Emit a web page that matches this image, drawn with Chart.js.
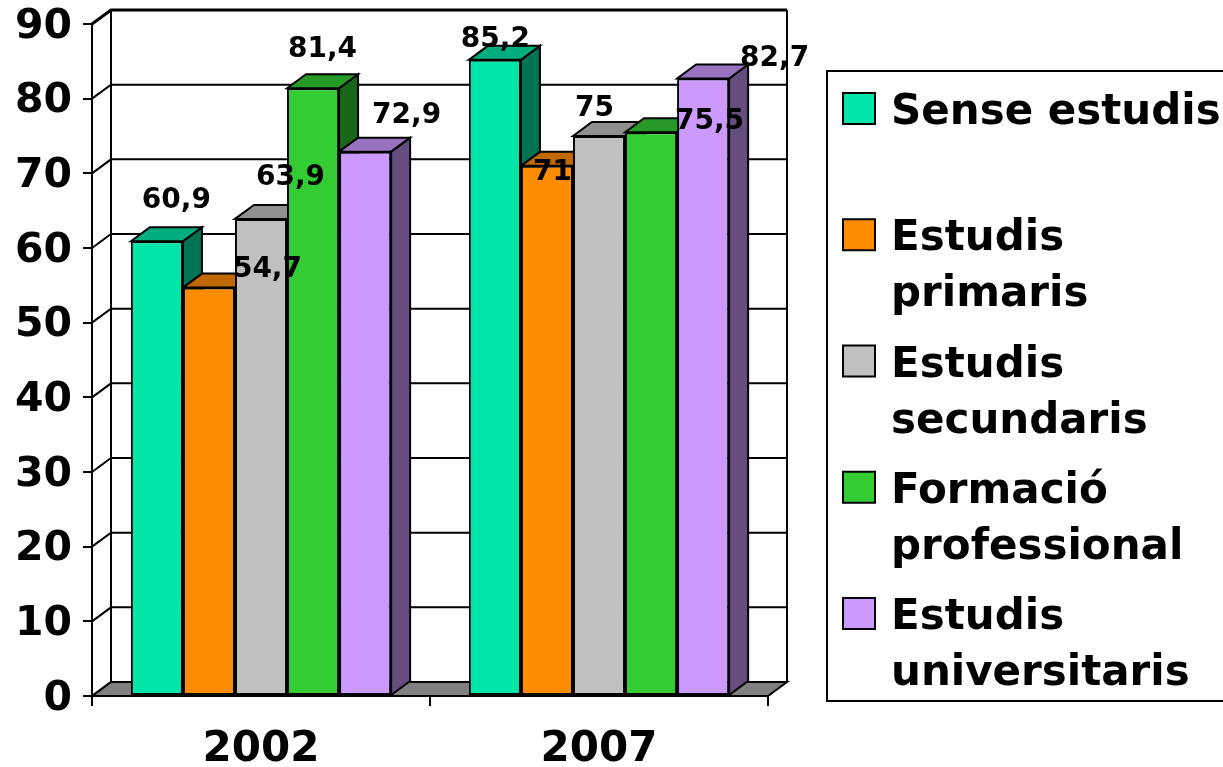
<!DOCTYPE html>
<html>
<head>
<meta charset="utf-8">
<script src="https://cdn.jsdelivr.net/npm/chart.js@4"></script>
<style>
  html, body { margin: 0; padding: 0; background: #fff; }
  #wrap { width: 1223px; height: 767px; position: relative; }
</style>
</head>
<body>
<div id="wrap"><canvas id="chart" width="1223" height="767"></canvas></div>
<script>
// data
const years = ["2002", "2007"];
const seriesNames = ["Sense estudis", "Estudis primaris", "Estudis secundaris", "Formació professional", "Estudis universitaris"];
const senseEstudis = [60.9, 85.2];
const estudisPrimaris = [54.7, 71];
const estudisSecundaris = [63.9, 75];
const formacioProfessional = [81.4, 75.5];
const estudisUniversitaris = [72.9, 82.7];
const yMin = 0, yMax = 90, yStep = 10;

// styling
const frontColors = ["#00E6A8", "#FF8C00", "#C0C0C0", "#33CC33", "#CC99FF"];
const depthX = 19, depthY = 14;
const FONT = "'DejaVu Sans', Verdana, sans-serif";
// Excel put the value labels in odd places, nudge them (px) per series / year
const labelNudge = [
    [[10, -34], [-9, -13]],
    [[49, -11], [-4, 14]],
    [[20, -34], [-14, -20]],
    [[0, -31], [49, -4]],
    [[32, -29], [62, -13]]
];

function shade(hex, f) {
    const n = parseInt(hex.slice(1), 16);
    const r = Math.round(((n >> 16) & 255) * f);
    const g = Math.round(((n >> 8) & 255) * f);
    const b = Math.round((n & 255) * f);
    return `rgb(${r},${g},${b})`;
}

function poly(ctx, pts, fill) {
    ctx.beginPath();
    ctx.moveTo(pts[0][0], pts[0][1]);
    for (let i = 1; i < pts.length; i++) ctx.lineTo(pts[i][0], pts[i][1]);
    ctx.closePath();
    if (fill) { ctx.fillStyle = fill; ctx.fill(); }
    ctx.stroke();
}

/**
 * Back walls, floor and bar depth faces
 */
const threeD = {
    id: "threeD",
    beforeDatasetsDraw(chart) {
        const ctx = chart.ctx;
        const a = chart.chartArea;
        const ys = chart.scales.y;
        ctx.save();
        ctx.strokeStyle = "#000";
        ctx.lineJoin = "miter";

        // floor
        ctx.lineWidth = 2;
        poly(ctx, [[a.left, a.bottom], [a.left + depthX, a.bottom - depthY],
                   [a.right + depthX, a.bottom - depthY], [a.right, a.bottom]], "#808080");

        // gridlines on left and back wall
        ys.ticks.forEach(t => {
            const py = ys.getPixelForValue(t.value);
            ctx.beginPath();
            ctx.moveTo(a.left, py);
            ctx.lineTo(a.left + depthX, py - depthY);
            ctx.lineTo(a.right + depthX, py - depthY);
            ctx.lineWidth = t.value === yMax ? 3 : 2;
            ctx.stroke();
        });
        ctx.lineWidth = 2;
        ctx.beginPath();
        ctx.moveTo(a.left + depthX, a.top - depthY);
        ctx.lineTo(a.left + depthX, a.bottom - depthY);
        ctx.moveTo(a.right + depthX, a.top - depthY);
        ctx.lineTo(a.right + depthX, a.bottom - depthY);
        ctx.stroke();

        // top and side faces, left to right
        const n = chart.data.labels.length;
        for (let i = 0; i < n; i++) {
            chart.data.datasets.forEach((ds, j) => {
                const bar = chart.getDatasetMeta(j).data[i];
                const l = bar.x - bar.width / 2, r = bar.x + bar.width / 2;
                const top = bar.y, base = bar.base;
                poly(ctx, [[r, top], [r + depthX, top - depthY], [r + depthX, base - depthY], [r, base]],
                     shade(frontColors[j], 0.5));
                poly(ctx, [[l, top], [l + depthX, top - depthY], [r + depthX, top - depthY], [r, top]],
                     shade(frontColors[j], 0.75));
            });
        }
        ctx.restore();
    },
    afterDatasetsDraw(chart) {
        const ctx = chart.ctx;
        ctx.save();
        ctx.font = `bold 28px ${FONT}`;
        ctx.fillStyle = "#000";
        ctx.textAlign = "center";
        ctx.textBaseline = "middle";
        chart.data.datasets.forEach((ds, j) => {
            chart.getDatasetMeta(j).data.forEach((bar, i) => {
                const txt = String(ds.data[i]).replace(".", ",");
                const nx = labelNudge[j][i][0], ny = labelNudge[j][i][1];
                ctx.fillText(txt, bar.x + depthX / 2 + nx, bar.y - depthY / 2 + ny);
            });
        });
        ctx.restore();
    }
};

/**
 * Legend with wrapped entries, Excel style
 */
const boxLegend = {
    id: "boxLegend",
    afterDraw(chart) {
        const ctx = chart.ctx;
        ctx.save();
        ctx.strokeStyle = "#000";
        ctx.lineWidth = 2;
        ctx.strokeRect(827, 71, 420, 630);

        ctx.font = `bold 42px ${FONT}`;
        ctx.textAlign = "left";
        ctx.textBaseline = "alphabetic";
        const slot = 126.25, lineH = 56, maxW = 345;
        chart.data.datasets.forEach((ds, j) => {
            const y0 = 93 + j * slot;
            ctx.fillStyle = frontColors[j];
            ctx.fillRect(843, y0, 32, 31);
            ctx.strokeRect(843, y0, 32, 31);

            // wrap words
            const words = ds.label.split(" ");
            const lines = [];
            let cur = "";
            words.forEach(w => {
                const test = cur ? cur + " " + w : w;
                if (cur && ctx.measureText(test).width > maxW) {
                    lines.push(cur);
                    cur = w;
                } else {
                    cur = test;
                }
            });
            lines.push(cur);
            ctx.fillStyle = "#000";
            lines.forEach((ln, k) => ctx.fillText(ln, 891, y0 + 31 + k * lineH));
        });
        ctx.restore();
    }
};

const seriesValues = [senseEstudis, estudisPrimaris, estudisSecundaris, formacioProfessional, estudisUniversitaris];

new Chart(document.getElementById("chart"), {
    type: "bar",
    data: {
        labels: years,
        datasets: seriesNames.map((name, j) => ({
            label: name,
            data: seriesValues[j],
            backgroundColor: frontColors[j],
            borderColor: "#000",
            borderWidth: 2,
            borderSkipped: false,
            categoryPercentage: 0.77,
            barPercentage: 1
        }))
    },
    options: {
        responsive: false,
        devicePixelRatio: 1,
        animation: false,
        layout: { padding: { top: 24, right: 455, left: 0, bottom: 0 } },
        plugins: {
            legend: { display: false },
            tooltip: { enabled: false }
        },
        scales: {
            x: {
                afterFit: s => { s.height = 71; s.paddingLeft = 0; s.paddingRight = 0; },
                grid: { offset: true, drawOnChartArea: false, drawTicks: true, tickLength: 10, color: "#000", lineWidth: 2 },
                border: { display: true, color: "#000", width: 2 },
                ticks: { color: "#000", padding: 19, font: { family: FONT, size: 42, weight: "bold" } }
            },
            y: {
                min: yMin,
                max: yMax,
                afterFit: s => { s.width = 92; s.paddingTop = 0; s.paddingBottom = 0; },
                grid: { drawOnChartArea: false, drawTicks: true, tickLength: 9, color: "#000", lineWidth: 2 },
                border: { display: true, color: "#000", width: 2 },
                ticks: { stepSize: yStep, color: "#000", padding: 11, labelOffset: 3, font: { family: FONT, size: 41, weight: "bold" } }
            }
        }
    },
    plugins: [threeD, boxLegend]
});
</script>
</body>
</html>
